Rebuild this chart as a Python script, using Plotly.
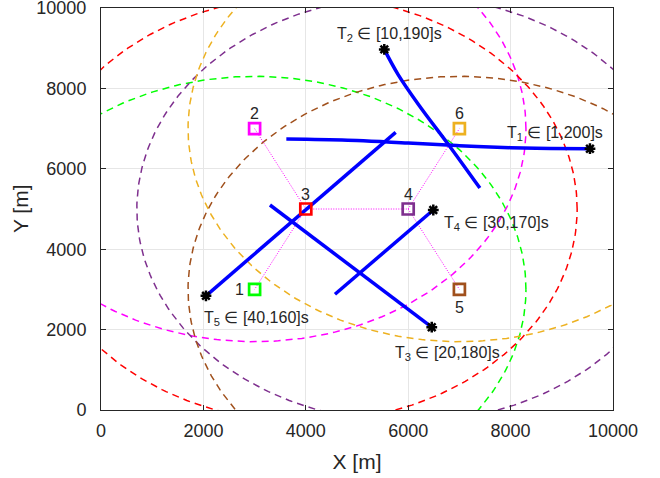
import numpy as np
import plotly.graph_objects as go

# ---------------- data ----------------
station_x = [3000, 3000, 4000, 6000, 7000, 7000]
station_y = [3000, 7000, 5000, 5000, 3000, 7000]
station_names = ["1", "2", "3", "4", "5", "6"]
station_colors = ["#00FF00", "#FF00FF", "#FF0000", "#7E2F8E", "#A0501C", "#EDB120"]
station_radius = [5300, 5300, 5300, 5300, 5300, 5300]
links = [(1, 2), (2, 0), (2, 3), (3, 5), (3, 4)]

t1_x = [9550, 8500, 8000, 7000, 6000, 5000, 4000, 3620]
t1_y = [6500, 6510, 6525, 6575, 6640, 6705, 6735, 6740]
t2_x = [5533, 5800, 6200, 6816, 7400]
t2_y = [8970, 8350, 7600, 6550, 5520]
t3_x = [6460, 3300]
t3_y = [2060, 5100]
t4_x = [6490, 4570]
t4_y = [4975, 2880]
t5_x = [2050, 5755]
t5_y = [2840, 6908]
tracks = [(t1_x, t1_y), (t2_x, t2_y), (t3_x, t3_y), (t4_x, t4_y), (t5_x, t5_y)]
track_labels = ["T<sub>1</sub> ∈ [1,200]s", "T<sub>2</sub> ∈ [10,190]s",
                "T<sub>3</sub> ∈ [20,180]s", "T<sub>4</sub> ∈ [30,170]s",
                "T<sub>5</sub> ∈ [40,160]s"]
label_x = [7891, 4570, 5703, 6660, 1973]
label_y = [6880, 9340, 1400, 4640, 2270]

ticks = [0, 2000, 4000, 6000, 8000, 10000]

FONT = "Liberation Sans, Arial, sans-serif"
TXT = "#262626"

fig = go.Figure()

# range circles
theta = np.linspace(0, 2 * np.pi, 361)
for cx, cy, r, c in zip(station_x, station_y, station_radius, station_colors):
    fig.add_trace(go.Scatter(x=cx + r * np.cos(theta), y=cy + r * np.sin(theta),
                             mode="lines", line=dict(color=c, width=1.5, dash="7px,5px"),
                             hoverinfo="skip", showlegend=False))

# dotted links
for a, b in links:
    fig.add_trace(go.Scatter(x=[station_x[a], station_x[b]], y=[station_y[a], station_y[b]],
                             mode="lines", line=dict(color="#FF00FF", width=1, dash="1px,1.5px"),
                             showlegend=False, hoverinfo="skip"))

# tracks
for tx, ty in tracks:
    fig.add_trace(go.Scatter(x=tx, y=ty, mode="lines",
                             line=dict(color="#0000FF", width=3.5, shape="spline", smoothing=1),
                             showlegend=False))
    fig.add_trace(go.Scatter(x=[tx[0]], y=[ty[0]], mode="markers",
                             marker=dict(symbol="circle", size=6, color="black"),
                             showlegend=False))
    fig.add_trace(go.Scatter(x=[tx[0]], y=[ty[0]], mode="markers",
                             marker=dict(symbol="asterisk-open", size=9, color="black",
                                         line=dict(color="black", width=2.5)),
                             showlegend=False))

# stations
fig.add_trace(go.Scatter(x=station_x, y=station_y, mode="markers",
                         marker=dict(symbol="square-open", size=11, color=station_colors,
                                     line=dict(color=station_colors, width=2.7)),
                         showlegend=False))

annotations = []
label_shift = [(-15, 0), (0, 15), (0, 15), (0, 15), (0, -18), (0, 15)]
for sx, sy, name, (dx, dy) in zip(station_x, station_y, station_names, label_shift):
    annotations.append(dict(x=sx, y=sy, text=name, showarrow=False, xshift=dx, yshift=dy,
                            font=dict(family=FONT, size=16, color=TXT)))
for lx, ly, t in zip(label_x, label_y, track_labels):
    annotations.append(dict(x=lx, y=ly, text=t, showarrow=False, xanchor="left", yanchor="middle",
                            font=dict(family=FONT, size=16, color=TXT)))
# y-axis title placed as rotated annotation
annotations.append(dict(x=-0.158, y=0.5, xref="paper", yref="paper", text="Y [m]",
                        textangle=-90, showarrow=False, xanchor="center", yanchor="middle",
                        font=dict(family=FONT, size=21, color=TXT)))

axis_common = dict(range=[0, 10000], tickvals=ticks, ticktext=[str(t) for t in ticks],
                   showgrid=True, gridcolor="#E6E6E6", gridwidth=1,
                   showline=True, linecolor=TXT, linewidth=1, mirror="ticks",
                   ticks="inside", ticklen=5, tickcolor=TXT,
                   tickfont=dict(family=FONT, size=18, color=TXT),
                   ticklabeloverflow="allow",
                   zeroline=False, automargin=False)

fig.update_layout(
    width=660, height=478,
    margin=dict(l=101, r=47, t=8, b=68),
    paper_bgcolor="white", plot_bgcolor="white",
    xaxis=dict(**axis_common, ticklabelstandoff=4,
               title=dict(text="X [m]", font=dict(family=FONT, size=21, color=TXT), standoff=14)),
    yaxis=dict(**axis_common, ticklabelstandoff=10),
    annotations=annotations,
)

fig.write_html("out.html")
